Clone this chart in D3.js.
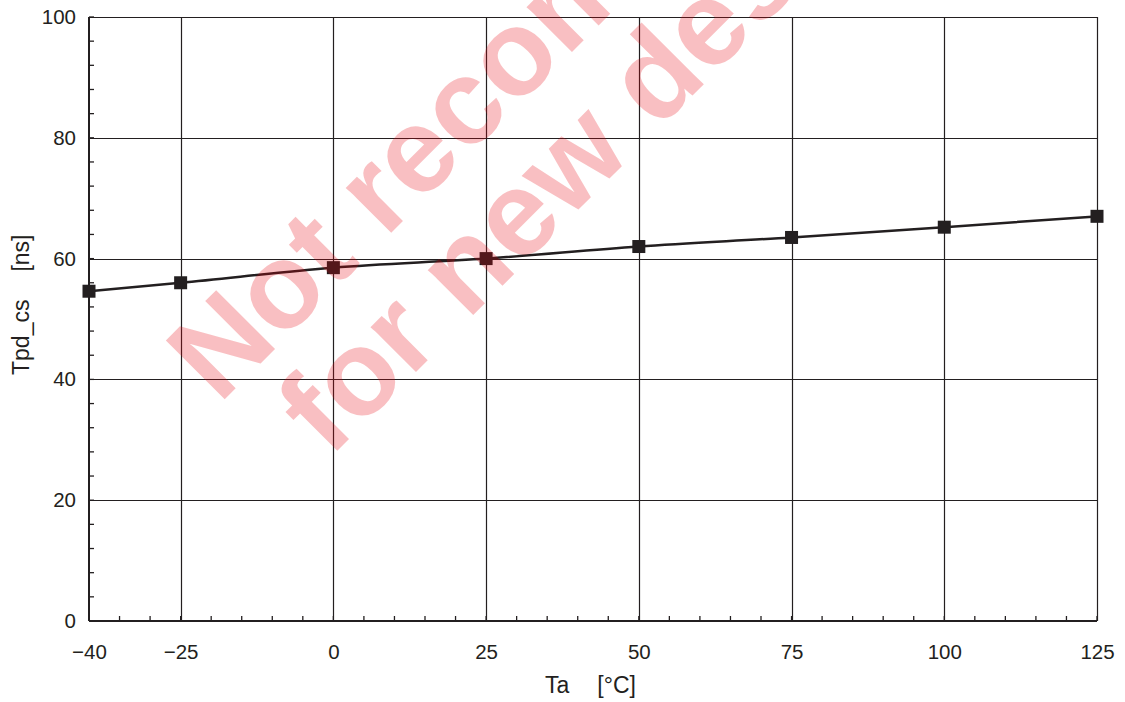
<!DOCTYPE html>
<html>
<head>
<meta charset="utf-8">
<script src="https://cdn.jsdelivr.net/npm/d3@7"></script>
<style>
  html, body { margin: 0; padding: 0; background: #fff; }
  svg { display: block; font-family: "Liberation Sans", Arial, sans-serif; }
</style>
</head>
<body>
<svg id="chart" width="1125" height="702"></svg>
<script>
// ---- data ----
const temps = [-40, -25, 0, 25, 50, 75, 100, 125];
const tpdValues = [54.6, 56.0, 58.5, 60.0, 62.0, 63.5, 65.2, 67.0];
const xTickValues = [-40, -25, 0, 25, 50, 75, 100, 125];
const yTickValues = [0, 20, 40, 60, 80, 100];
const xTitle = ["Ta", "[°C]"];
const yTitle = ["Tpd_cs", "[ns]"];
const watermarkLines = ["Not recommended", "for new designs"];

// ---- layout ----
const W = 1125, H = 702;
const m = { left: 89, top: 17, right: 28, bottom: 81 };
const iw = W - m.left - m.right;   // 1008
const ih = H - m.top - m.bottom;   // 604
const ink = "#231f20";

const svg = d3.select("#chart");
const g = svg.append("g").attr("transform", `translate(${m.left},${m.top})`);

const x = d3.scaleLinear().domain([-40, 125]).range([0, iw]);
const y = d3.scaleLinear().domain([0, 100]).range([ih, 0]);

// grid lines
g.append("g").selectAll("line").data(xTickValues.filter(v => v !== -40)).join("line")
  .attr("x1", d => Math.round(x(d)) + 0.5).attr("x2", d => Math.round(x(d)) + 0.5)
  .attr("y1", 0).attr("y2", ih)
  .attr("stroke", ink).attr("stroke-width", 1.2);
g.append("g").selectAll("line").data(yTickValues.filter(v => v !== 0)).join("line")
  .attr("x1", 0).attr("x2", iw)
  .attr("y1", d => Math.round(y(d)) + 0.5).attr("y2", d => Math.round(y(d)) + 0.5)
  .attr("stroke", ink).attr("stroke-width", 1.2);

// minor ticks (inward)
const xMinor = d3.range(-40, 125.01, 5);
const yMinor = d3.range(0, 100.01, 4);
g.append("g").selectAll("line").data(xMinor).join("line")
  .attr("x1", d => x(d)).attr("x2", d => x(d))
  .attr("y1", ih).attr("y2", ih - 5)
  .attr("stroke", ink).attr("stroke-width", 1.3);
g.append("g").selectAll("line").data(yMinor).join("line")
  .attr("x1", 0).attr("x2", 5)
  .attr("y1", d => y(d)).attr("y2", d => y(d))
  .attr("stroke", ink).attr("stroke-width", 1.3);

// axes lines
g.append("line").attr("x1", 0).attr("x2", 0).attr("y1", 0).attr("y2", ih)
  .attr("stroke", ink).attr("stroke-width", 2);
g.append("line").attr("x1", 0).attr("x2", iw).attr("y1", ih).attr("y2", ih)
  .attr("stroke", ink).attr("stroke-width", 2);

// axes labels via d3 axes
const fmt = d => (d < 0 ? "\u2212" + Math.abs(d) : String(d));
const xAxis = g.append("g").attr("transform", `translate(0,${ih})`)
  .call(d3.axisBottom(x).tickValues(xTickValues).tickFormat(fmt).tickSize(0).tickPadding(23));
const yAxis = g.append("g")
  .call(d3.axisLeft(y).tickValues(yTickValues).tickFormat(fmt).tickSize(0).tickPadding(13));
[xAxis, yAxis].forEach(a => {
  a.select(".domain").remove();
  a.selectAll("text").attr("fill", ink).style("font-size", "20.5px")
    .style("font-family", "'Liberation Sans', Arial, sans-serif");
});

// axis titles
const xt = svg.append("text").attr("x", 545).attr("y", 693)
  .attr("fill", ink).style("font-size", "23px");
xt.append("tspan").text(xTitle[0]);
xt.append("tspan").attr("dx", 28).text(xTitle[1]);

const yt = svg.append("text").attr("transform", "translate(29,375) rotate(-90)")
  .attr("fill", ink).style("font-size", "23px");
yt.append("tspan").text(yTitle[0]);
yt.append("tspan").attr("dx", 28).text(yTitle[1]);

// series line
const pts = temps.map((t, i) => [t, tpdValues[i]]);
g.append("path").datum(pts)
  .attr("d", d3.line().x(d => x(d[0])).y(d => y(d[1])).curve(d3.curveMonotoneX))
  .attr("fill", "none").attr("stroke", ink).attr("stroke-width", 2.5);

// markers
const ms = 13;
g.append("g").selectAll("rect").data(pts).join("rect")
  .attr("x", d => x(d[0]) - ms / 2).attr("y", d => y(d[1]) - ms / 2)
  .attr("width", ms).attr("height", ms).attr("fill", ink);

// watermark
const wm = svg.append("g").attr("transform", "translate(219,405) rotate(-45)")
  .attr("fill", "rgb(232,0,10)").attr("fill-opacity", 0.25)
  .style("font-weight", "bold").style("font-size", "121px")
  .style("font-family", "'Liberation Sans', Arial, sans-serif");
wm.selectAll("text").data(watermarkLines).join("text")
  .attr("x", (d, i) => i * 40).attr("y", (d, i) => i * 116)
  .text(d => d);
</script>
</body>
</html>
